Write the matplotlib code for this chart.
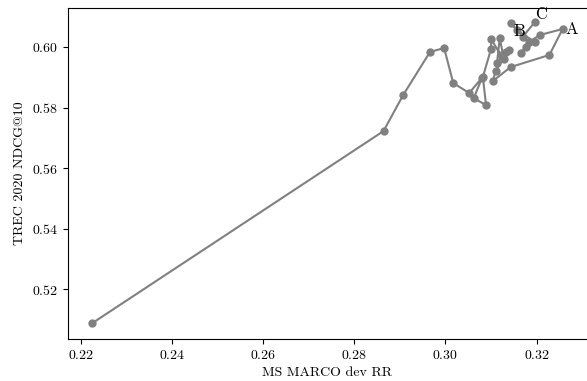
import matplotlib
matplotlib.use('Agg')
import matplotlib.pyplot as plt

plt.rcParams['font.family'] = 'serif'
plt.rcParams['font.serif'] = ['cmr10', 'DejaVu Serif']
plt.rcParams['mathtext.fontset'] = 'cm'
plt.rcParams['axes.formatter.use_mathtext'] = True
plt.rcParams['font.size'] = 10

# checkpoints, in training order
dev_rr = [0.2224, 0.2864, 0.2907, 0.2966, 0.2997, 0.3017, 0.3052, 0.3080,
          0.3062, 0.3089, 0.3082, 0.3100, 0.3100, 0.3121, 0.3128, 0.3119,
          0.3113, 0.3132, 0.3139, 0.3110, 0.3104, 0.3143, 0.3228, 0.3257,
          0.3207, 0.3183, 0.3176, 0.3165, 0.3196, 0.3156, 0.3143, 0.3170,
          0.3196]
trec_ndcg = [0.5086, 0.5723, 0.5842, 0.5985, 0.5998, 0.5882, 0.5849, 0.5899,
             0.5832, 0.5809, 0.5902, 0.5995, 0.6028, 0.5975, 0.5962, 0.6031,
             0.5948, 0.5985, 0.5991, 0.5922, 0.5889, 0.5935, 0.5975, 0.6061,
             0.6041, 0.6018, 0.6002, 0.5982, 0.6018, 0.6058, 0.6081, 0.6036,
             0.6084]
labels = {'A': 23, 'B': 29, 'C': 32}


def main():
    fig = plt.figure(figsize=(5.87, 3.81), dpi=100)
    ax = fig.add_axes([0.1158, 0.1102, 0.8842, 0.8688])

    ax.plot(dev_rr, trec_ndcg, color='gray', marker='o', markersize=5,
            linewidth=1.5)

    ax.annotate('A', (dev_rr[labels['A']], trec_ndcg[labels['A']]),
                xytext=(2, 0), textcoords='offset points',
                ha='left', va='center', fontsize=12)
    ax.annotate('B', (dev_rr[labels['B']], trec_ndcg[labels['B']]),
                xytext=(2, -1), textcoords='offset points',
                ha='center', va='center', fontsize=12)
    ax.annotate('C', (dev_rr[labels['C']], trec_ndcg[labels['C']]),
                xytext=(0, 0), textcoords='offset points',
                ha='left', va='bottom', fontsize=12)

    ax.set_xlim(0.21716, 0.33105)
    ax.set_ylim(0.50344, 0.61305)
    ax.set_xticks([0.22, 0.24, 0.26, 0.28, 0.30, 0.32])
    ax.set_yticks([0.52, 0.54, 0.56, 0.58, 0.60])
    ax.spines['right'].set_visible(False)

    ax.set_xlabel('MS MARCO dev RR')
    ax.set_ylabel('TREC 2020 NDCG@10')

    fig.savefig('out.png', dpi=100)


if __name__ == '__main__':
    main()
